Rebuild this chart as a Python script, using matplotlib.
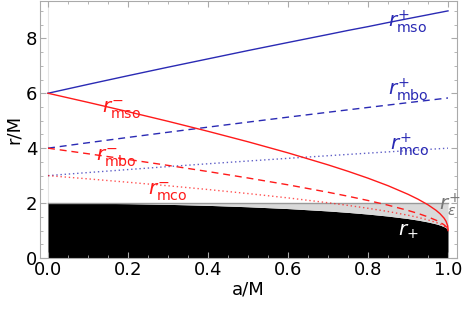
import matplotlib
matplotlib.use("Agg")
import matplotlib.pyplot as plt

# spin values a/M
a = [0.0, 0.1, 0.2, 0.3, 0.4, 0.5, 0.6, 0.7, 0.75, 0.8, 0.85, 0.9, 0.925, 0.95,
     0.97, 0.98, 0.99, 0.995, 0.999, 0.9999, 1.0]

# horizon and ergosurface
r_plus = [2.0, 1.995, 1.980, 1.954, 1.917, 1.866, 1.800, 1.714, 1.661, 1.600, 1.527, 1.436,
          1.380, 1.312, 1.243, 1.199, 1.141, 1.100, 1.045, 1.014, 1.0]
r_ergo = [2.0] * len(a)

# co-rotating (-) orbits
r_mso_m = [6.0, 5.669, 5.329, 4.979, 4.614, 4.233, 3.829, 3.393, 3.158, 2.907, 2.633, 2.321,
           2.142, 1.937, 1.738, 1.614, 1.455, 1.341, 1.182, 1.079, 1.0]
r_mbo_m = [4.0, 3.797, 3.589, 3.373, 3.149, 2.914, 2.665, 2.395, 2.250, 2.094, 1.925, 1.732,
           1.623, 1.497, 1.376, 1.303, 1.210, 1.146, 1.064, 1.020, 1.0]
r_mco_m = [3.0, 2.882, 2.759, 2.631, 2.494, 2.347, 2.189, 2.013, 1.916, 1.811, 1.694, 1.558,
           1.479, 1.386, 1.296, 1.240, 1.168, 1.118, 1.052, 1.016, 1.0]

# counter-rotating (+) orbits
r_mso_p = [6.0, 6.323, 6.639, 6.949, 7.252, 7.555, 7.849, 8.140, 8.288, 8.427, 8.575, 8.717,
           8.788, 8.858, 8.916, 8.943, 8.972, 8.986, 8.997, 9.0, 9.0]
r_mbo_p = [4.0, 4.198, 4.391, 4.580, 4.766, 4.949, 5.130, 5.308, 5.396, 5.483, 5.570, 5.657,
           5.700, 5.743, 5.777, 5.794, 5.811, 5.820, 5.826, 5.828, 5.828]
r_mco_p = [3.0, 3.112, 3.221, 3.329, 3.432, 3.532, 3.630, 3.725, 3.772, 3.819, 3.865, 3.910,
           3.933, 3.955, 3.973, 3.982, 3.991, 3.996, 3.999, 4.0, 4.0]

blue = "#2a2ab4"
red = "#ff1a1a"

fig = plt.figure(figsize=(4.63, 3.10), dpi=100)
ax = fig.add_axes([40 / 463, 52 / 310, 417 / 463, 257 / 310])

ax.axvline(0, color="#e4e4e4", lw=0.8, zorder=0)
ax.fill_between(a, 0, r_plus, color="black", lw=0, zorder=1)
ax.fill_between(a, r_plus, r_ergo, color="#d9d9d9", lw=0, zorder=1)
ax.plot(a, r_ergo, color="#999999", lw=1.0, zorder=2)

ax.plot(a, r_mso_p, color=blue, lw=1.0, zorder=3)
ax.plot(a, r_mbo_p, color=blue, lw=1.0, ls=(0, (5, 3.5)), zorder=3)
ax.plot(a, r_mco_p, color=blue, lw=1.0, ls=(0, (1, 2)), alpha=0.75, zorder=3)
ax.plot(a, r_mso_m, color=red, lw=1.0, zorder=3)
ax.plot(a, r_mbo_m, color=red, lw=1.0, ls=(0, (5, 3.5)), zorder=3)
ax.plot(a, r_mco_m, color=red, lw=1.0, ls=(0, (1, 2)), alpha=0.75, zorder=3)

lab = dict(fontsize=14.5, ha="center", va="center", zorder=4)
ax.text(0.185, 5.39, r"$r^{-}_{\rm mso}$", color=red, **lab)
ax.text(0.17, 3.64, r"$r^{-}_{\rm mbo}$", color=red, **lab)
ax.text(0.30, 2.40, r"$r^{-}_{\rm mco}$", color=red, **lab)
ax.text(0.90, 8.60, r"$r^{+}_{\rm mso}$", color=blue, **lab)
ax.text(0.90, 6.12, r"$r^{+}_{\rm mbo}$", color=blue, **lab)
ax.text(0.905, 4.12, r"$r^{+}_{\rm mco}$", color=blue, **lab)
ax.text(1.005, 1.93, r"$r^{+}_{\epsilon}$", color="#777777", **lab)
ax.text(0.90, 0.95, r"$r_{+}$", color="white", **lab)

ax.set_xlim(-0.02, 1.0225)
ax.set_ylim(0, 9.36)
ax.set_xticks([0.0, 0.2, 0.4, 0.6, 0.8, 1.0])
ax.set_xticklabels(["0.0", "0.2", "0.4", "0.6", "0.8", "1.0"])
ax.set_yticks([0, 2, 4, 6, 8])
ax.set_xticks([i * 0.05 for i in range(21)], minor=True)
ax.set_yticks([i * 0.5 for i in range(19)], minor=True)

for s in ax.spines.values():
    s.set_color("#aaaaaa")
    s.set_linewidth(0.8)
ax.tick_params(which="both", direction="in", top=True, right=True, color="#aaaaaa",
               labelsize=13, pad=2)
ax.tick_params(which="major", length=4, width=0.8)
ax.tick_params(which="minor", length=2.2, width=0.6)

ax.set_xlabel("a/M", fontsize=13, labelpad=1)
ax.set_ylabel("r/M", fontsize=13, labelpad=2)

fig.savefig("out.png", dpi=100)
